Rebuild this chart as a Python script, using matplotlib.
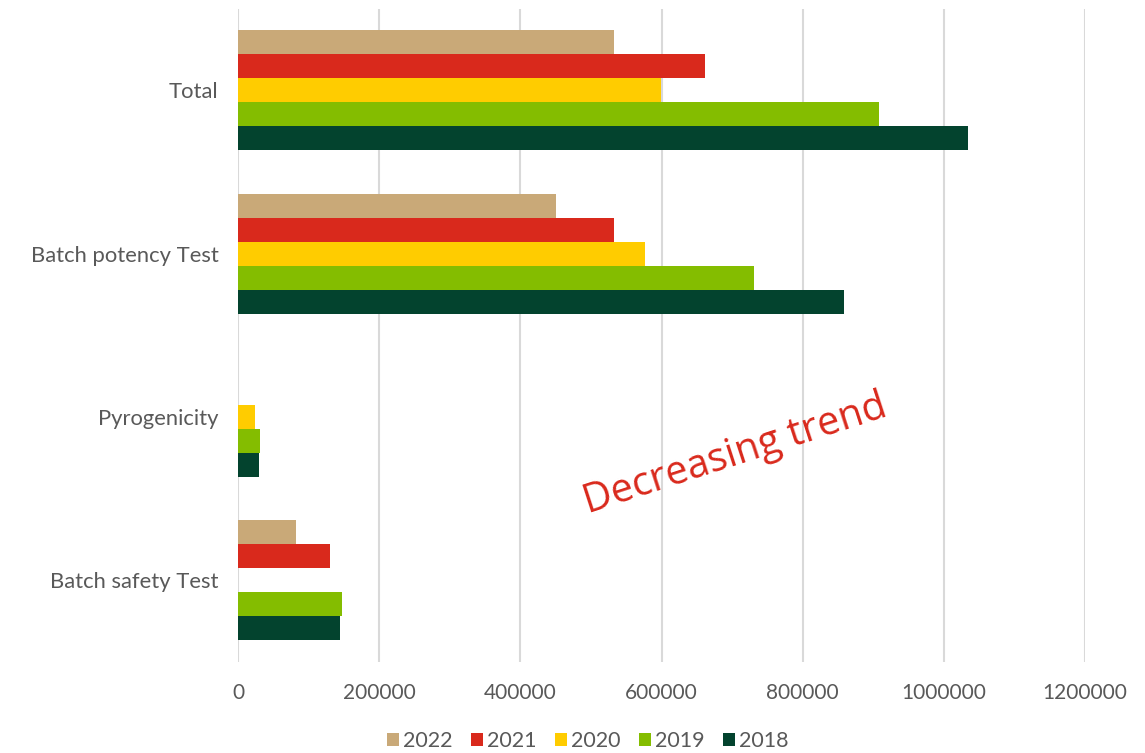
import numpy as np
import matplotlib
matplotlib.use('Agg')
import matplotlib.pyplot as plt

plt.rcParams['font.family'] = ['Lato', 'DejaVu Sans']

categories = ['Batch safety Test', 'Pyrogenicity', 'Batch potency Test', 'Total']
years = ['2022', '2021', '2020', '2019', '2018']
colors = ['#C9A978', '#D9291C', '#FFCC00', '#84BD00', '#03432E']

# values per year, ordered like categories (bottom to top)
v2022 = [81700, 0, 450600, 532700]
v2021 = [129900, 0, 532700, 661600]
v2020 = [0, 24000, 576700, 599300]
v2019 = [147300, 30700, 731100, 908200]
v2018 = [145000, 30000, 858600, 1034300]
series = [v2022, v2021, v2020, v2019, v2018]

W, H = 1145, 753
fig = plt.figure(figsize=(W / 100, H / 100), dpi=100)
ax = fig.add_axes([238/W, 1-661.7/H, (1085-238)/W, (661.7-8.7)/H])

y = np.arange(len(categories))
h = 0.147
for i, (yr, vals, c) in enumerate(zip(years, series, colors)):
    ax.barh(y + (2 - i) * h, vals, height=h, color=c, label=yr, zorder=3)

ax.set_xlim(0, 1200000)
ax.set_ylim(-0.5, 3.5)
ax.set_xticks(np.arange(0, 1200001, 200000))
ax.set_xticklabels([str(v) for v in range(0, 1200001, 200000)])
ax.set_yticks(y)
ax.set_yticklabels(categories)
ax.grid(axis='x', color='#D9D9D9', linewidth=1.5, zorder=0)
for s in ax.spines.values():
    s.set_visible(False)
ax.tick_params(axis='both', length=0, labelcolor='#595959')
ax.tick_params(axis='y', pad=14, labelsize=15.8)
ax.tick_params(axis='x', pad=15, labelsize=15)

# red note across the lower right part of the plot
ax.text(735 / W, 1 - 455 / H, 'Decreasing trend', transform=fig.transFigure,
        fontsize=28.5, color='#D9291C', rotation=18, ha='center', va='center',
        family=['Open Sans', 'DejaVu Sans'])

leg = fig.legend(loc='center', bbox_to_anchor=(588/W, 1-741/H), ncol=5,
                 frameon=False, fontsize=15.5, handlelength=0.55, handleheight=0.55,
                 handletextpad=0.2, columnspacing=0.85)
for t in leg.get_texts():
    t.set_color('#595959')

fig.savefig('out.png', dpi=100)
